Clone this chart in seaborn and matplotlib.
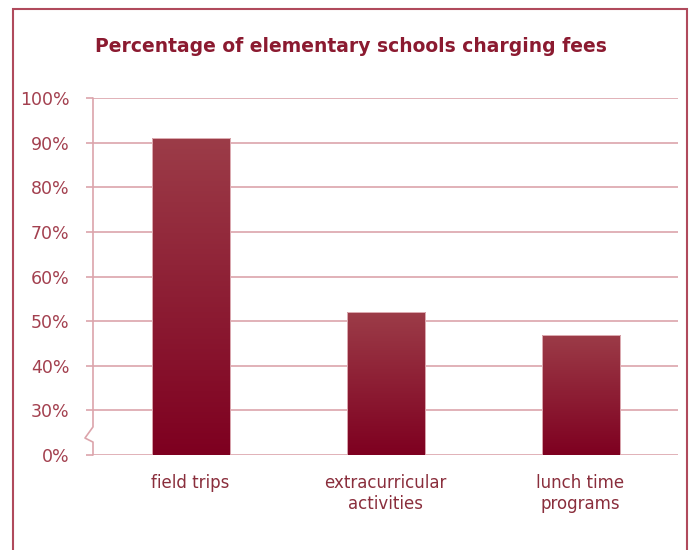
import numpy as np
import seaborn as sns
import matplotlib.pyplot as plt
from matplotlib.colors import LinearSegmentedColormap
from matplotlib.patches import Rectangle
import matplotlib.transforms as mtransforms

sns.set_style('white')
plt.rcParams['font.family'] = ['DejaVu Sans']

# data
categories = ['field trips', 'extracurricular\nactivities', 'lunch time\nprograms']
values = [91, 52, 47]
tick_values = [0, 30, 40, 50, 60, 70, 80, 90, 100]
tick_labels = ['0%', '30%', '40%', '50%', '60%', '70%', '80%', '90%', '100%']

dark = '#7e0020'
light = '#9c3c48'
grid_col = '#dca4ab'
text_col = '#a3404f'
title_col = '#8b1a30'

# broken axis: 0% sits one step below 30%
def squash(v):
    return v if v >= 30 else 20 + v / 30 * 10

fig = plt.figure(figsize=(6.94, 5.5), dpi=100)
ax = fig.add_axes([0.134, 0.1727, 0.843, 0.6491])

sns.barplot(x=categories, y=[squash(v) for v in values], color=dark, width=0.4, ax=ax)

# gradient fill on each bar
cmap = LinearSegmentedColormap.from_list('g', [dark, light])
grad = np.linspace(0, 1, 256).reshape(-1, 1)
for p in ax.patches:
    x0, w = p.get_x(), p.get_width()
    top = p.get_y() + p.get_height()
    p.set_facecolor('none')
    p.set_edgecolor('#e8c0c5')
    p.set_linewidth(0.6)
    im = ax.imshow(grad, cmap=cmap, origin='lower', aspect='auto',
                   extent=[x0, x0 + w, 20, top], zorder=2)
    im.set_clip_path(p)
    p.set_zorder(3)
ax.set_xlim(-0.5, 2.5)
ax.set_ylim(20, 100)

ax.set_yticks([squash(v) for v in tick_values])
ax.set_yticklabels(tick_labels)
ax.yaxis.grid(True, color=grid_col, linewidth=1.2)
ax.set_axisbelow(True)
for s in ax.spines.values():
    s.set_visible(False)
ax.tick_params(axis='y', length=5, width=1.2, color=grid_col, labelsize=12.5,
               labelcolor=text_col, pad=12, left=True)
ax.tick_params(axis='x', length=0, labelsize=12, labelcolor='#8a2e3c', pad=14)
ax.set_xlabel('')
ax.set_ylabel('')

# left axis line with zigzag break
tr = mtransforms.blended_transform_factory(ax.transAxes, ax.transData)
ax.plot([0, 0, -0.0137, 0, 0], [100, 26.3, 23.8, 22.9, 20], color=grid_col,
        linewidth=1.2, transform=tr, clip_on=False, zorder=4)

fig.text(0.505, 0.915, 'Percentage of elementary schools charging fees',
         ha='center', va='center', fontsize=13.5, fontweight='bold', color=title_col)

# frame around the figure
fig.patches.append(Rectangle((0.019, -0.1), 0.971, 1.083, transform=fig.transFigure,
                             fill=False, edgecolor='#b04a5c', linewidth=1.5))

fig.savefig('out.png', dpi=100)
